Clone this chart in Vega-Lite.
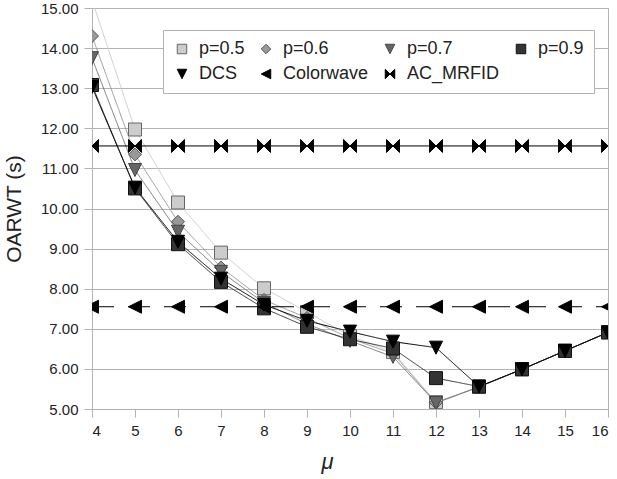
{
  "$schema": "https://vega.github.io/schema/vega-lite/v6.json",
  "width": 516,
  "height": 401,
  "autosize": {"type": "none"},
  "padding": {"left": 92, "top": 8, "right": 9, "bottom": 70},
  "background": "white",
  "config": {
    "view": {"stroke": "#b3b3b3", "strokeWidth": 1},
    "font": "Liberation Sans"
  },
  "data": {
    "values": [
      {"s":"p=0.5","mu":4,"v":15.2},{"s":"p=0.5","mu":5,"v":11.97},{"s":"p=0.5","mu":6,"v":10.15},{"s":"p=0.5","mu":7,"v":8.9},{"s":"p=0.5","mu":8,"v":8.01},{"s":"p=0.5","mu":9,"v":7.42},{"s":"p=0.5","mu":10,"v":6.82},{"s":"p=0.5","mu":11,"v":6.42},{"s":"p=0.5","mu":12,"v":5.17},{"s":"p=0.5","mu":13,"v":5.55},{"s":"p=0.5","mu":14,"v":5.99},{"s":"p=0.5","mu":15,"v":6.45},{"s":"p=0.5","mu":16,"v":6.91},
      {"s":"p=0.6","mu":4,"v":14.3},{"s":"p=0.6","mu":5,"v":11.35},{"s":"p=0.6","mu":6,"v":9.67},{"s":"p=0.6","mu":7,"v":8.53},{"s":"p=0.6","mu":8,"v":7.72},{"s":"p=0.6","mu":9,"v":7.27},{"s":"p=0.6","mu":10,"v":6.76},{"s":"p=0.6","mu":11,"v":6.38},{"s":"p=0.6","mu":12,"v":5.16},{"s":"p=0.6","mu":13,"v":5.55},{"s":"p=0.6","mu":14,"v":5.99},{"s":"p=0.6","mu":15,"v":6.45},{"s":"p=0.6","mu":16,"v":6.91},
      {"s":"p=0.7","mu":4,"v":13.75},{"s":"p=0.7","mu":5,"v":10.96},{"s":"p=0.7","mu":6,"v":9.42},{"s":"p=0.7","mu":7,"v":8.42},{"s":"p=0.7","mu":8,"v":7.65},{"s":"p=0.7","mu":9,"v":7.12},{"s":"p=0.7","mu":10,"v":6.7},{"s":"p=0.7","mu":11,"v":6.3},{"s":"p=0.7","mu":12,"v":5.15},{"s":"p=0.7","mu":13,"v":5.55},{"s":"p=0.7","mu":14,"v":5.99},{"s":"p=0.7","mu":15,"v":6.45},{"s":"p=0.7","mu":16,"v":6.91},
      {"s":"p=0.9","mu":4,"v":13.08},{"s":"p=0.9","mu":5,"v":10.5},{"s":"p=0.9","mu":6,"v":9.11},{"s":"p=0.9","mu":7,"v":8.17},{"s":"p=0.9","mu":8,"v":7.51},{"s":"p=0.9","mu":9,"v":7.05},{"s":"p=0.9","mu":10,"v":6.74},{"s":"p=0.9","mu":11,"v":6.51},{"s":"p=0.9","mu":12,"v":5.77},{"s":"p=0.9","mu":13,"v":5.56},{"s":"p=0.9","mu":14,"v":5.99},{"s":"p=0.9","mu":15,"v":6.45},{"s":"p=0.9","mu":16,"v":6.91},
      {"s":"DCS","mu":4,"v":13.03},{"s":"DCS","mu":5,"v":10.52},{"s":"DCS","mu":6,"v":9.17},{"s":"DCS","mu":7,"v":8.25},{"s":"DCS","mu":8,"v":7.6},{"s":"DCS","mu":9,"v":7.2},{"s":"DCS","mu":10,"v":6.93},{"s":"DCS","mu":11,"v":6.68},{"s":"DCS","mu":12,"v":6.53},{"s":"DCS","mu":13,"v":5.56},{"s":"DCS","mu":14,"v":5.99},{"s":"DCS","mu":15,"v":6.45},{"s":"DCS","mu":16,"v":6.91},
      {"s":"Colorwave","mu":4,"v":7.55},{"s":"Colorwave","mu":5,"v":7.55},{"s":"Colorwave","mu":6,"v":7.55},{"s":"Colorwave","mu":7,"v":7.55},{"s":"Colorwave","mu":8,"v":7.55},{"s":"Colorwave","mu":9,"v":7.55},{"s":"Colorwave","mu":10,"v":7.55},{"s":"Colorwave","mu":11,"v":7.55},{"s":"Colorwave","mu":12,"v":7.55},{"s":"Colorwave","mu":13,"v":7.55},{"s":"Colorwave","mu":14,"v":7.55},{"s":"Colorwave","mu":15,"v":7.55},{"s":"Colorwave","mu":16,"v":7.55},
      {"s":"AC_MRFID","mu":4,"v":11.56},{"s":"AC_MRFID","mu":5,"v":11.56},{"s":"AC_MRFID","mu":6,"v":11.56},{"s":"AC_MRFID","mu":7,"v":11.56},{"s":"AC_MRFID","mu":8,"v":11.56},{"s":"AC_MRFID","mu":9,"v":11.56},{"s":"AC_MRFID","mu":10,"v":11.56},{"s":"AC_MRFID","mu":11,"v":11.56},{"s":"AC_MRFID","mu":12,"v":11.56},{"s":"AC_MRFID","mu":13,"v":11.56},{"s":"AC_MRFID","mu":14,"v":11.56},{"s":"AC_MRFID","mu":15,"v":11.56},{"s":"AC_MRFID","mu":16,"v":11.56}
    ]
  },
  "encoding": {
    "x": {
      "field": "mu", "type": "quantitative",
      "scale": {"domain": [4, 16], "nice": false, "zero": false},
      "axis": {
        "title": "μ", "values": [4,5,6,7,8,9,10,11,12,13,14,15,16], "format": "d",
        "grid": false, "domainColor": "#b3b3b3", "tickColor": "#b3b3b3", "tickSize": 8,
        "labelFont": "Liberation Sans", "labelFontSize": 15, "labelColor": "#222222", "labelPadding": 6,
        "titleFont": "Liberation Sans", "titleFontSize": 22, "titleFontStyle": "italic", "titleFontWeight": "normal",
        "titleColor": "#222222", "titleX": 235, "titleY": 59, "titleAlign": "center", "titleBaseline": "alphabetic"
      }
    },
    "y": {
      "field": "v", "type": "quantitative",
      "scale": {"domain": [5, 15], "nice": false, "zero": false},
      "axis": {
        "title": "OARWT (s)", "values": [5,6,7,8,9,10,11,12,13,14,15], "format": ".2f",
        "grid": true, "gridColor": "#b3b3b3", "domainColor": "#b3b3b3", "tickColor": "#b3b3b3", "tickSize": 8,
        "labelFont": "Liberation Sans", "labelFontSize": 15, "labelColor": "#222222", "labelPadding": 6,
        "titleFont": "Liberation Sans", "titleFontSize": 21, "titleFontWeight": "normal", "titleColor": "#222222",
        "titlePadding": 16
      }
    }
  },
  "layer": [
    {
      "mark": {"type": "line", "clip": true, "strokeWidth": 1},
      "encoding": {
        "detail": {"field": "s"},
        "color": {
          "field": "s", "type": "nominal", "legend": null,
          "scale": {
            "domain": ["AC_MRFID","Colorwave","DCS","p=0.9","p=0.7","p=0.6","p=0.5"],
            "range": ["#000000","#000000","#000000","#333333","#777777","#999999","#cccccc"]
          }
        },
        "strokeDash": {
          "field": "s", "type": "nominal", "legend": null,
          "scale": {
            "domain": ["AC_MRFID","Colorwave","DCS","p=0.9","p=0.7","p=0.6","p=0.5"],
            "range": [[1,0],[22,14],[1,0],[1,0],[1,0],[1,0],[1,0]]
          }
        },
        "order": {"field": "mu"}
      }
    },
    {
      "mark": {"type": "point", "clip": true, "filled": true, "size": 169, "strokeWidth": 1, "opacity": 1},
      "encoding": {
        "shape": {
          "field": "s", "type": "nominal",
          "scale": {
            "domain": ["p=0.5","p=0.6","p=0.7","p=0.9","DCS","Colorwave","AC_MRFID"],
            "range": [
              "M-1,-1H1V1H-1Z",
              "M0,-1L1,0L0,1L-1,0Z",
              "M-1,-1H1L0,1Z",
              "M-1,-1H1V1H-1Z",
              "M-1,-1H1L0,1Z",
              "M-1,0L1,-1V1Z",
              "M-1,-1L0,0L-1,1ZM1,-1L0,0L1,1Z"
            ]
          },
          "legend": {
            "title": null,
            "orient": "none",
            "legendX": 71,
            "legendY": 22,
            "direction": "horizontal",
            "columns": 4,
            "columnPadding": 12,
            "rowPadding": 7,
            "padding": 10,
            "strokeColor": "#b3b3b3",
            "fillColor": "#ffffff",
            "labelFont": "Liberation Sans",
            "labelFontSize": 18,
            "labelColor": "#222222",
            "labelOffset": 8,
            "labelLimit": 0,
            "symbolSize": 90,
            "symbolStrokeWidth": 1,
            "symbolOpacity": 1
          }
        },
        "fill": {
          "field": "s", "type": "nominal",
          "scale": {
            "domain": ["p=0.5","p=0.6","p=0.7","p=0.9","DCS","Colorwave","AC_MRFID"],
            "range": ["#cccccc","#999999","#666666","#333333","#000000","#000000","#000000"]
          }
        },
        "stroke": {
          "field": "s", "type": "nominal",
          "scale": {
            "domain": ["p=0.5","p=0.6","p=0.7","p=0.9","DCS","Colorwave","AC_MRFID"],
            "range": ["#666666","#555555","#444444","#111111","#000000","#000000","#000000"]
          }
        }
      }
    }
  ]
}
